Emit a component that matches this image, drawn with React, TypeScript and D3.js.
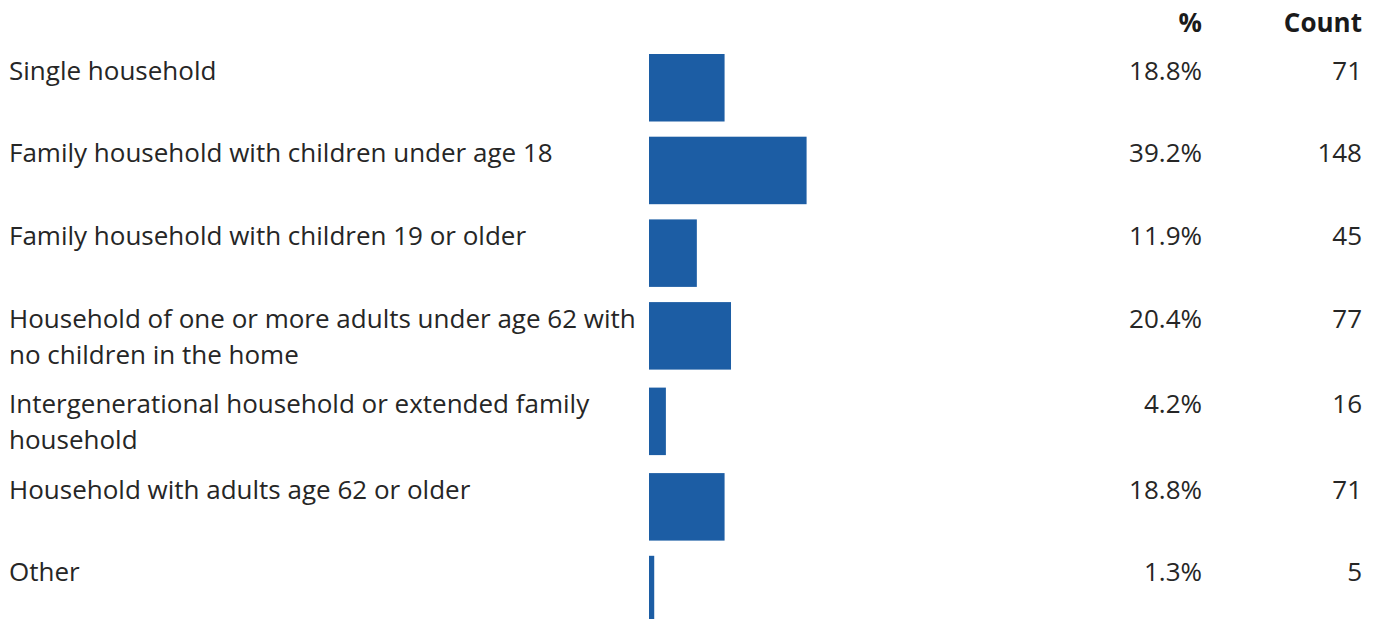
import React from "react";
import * as d3 from "d3";

const categories: string[][] = [
  ["Single household"],
  ["Family household with children under age 18"],
  ["Family household with children 19 or older"],
  ["Household of one or more adults under age 62 with", "no children in the home"],
  ["Intergenerational household or extended family", "household"],
  ["Household with adults age 62 or older"],
  ["Other"],
];
const percents: number[] = [18.8, 39.2, 11.9, 20.4, 4.2, 18.8, 1.3];
const counts: number[] = [71, 148, 45, 77, 16, 71, 5];
const headers: string[] = ["%", "Count"];

const W = 1375;
const H = 619;
const FONT = "'Open Sans', sans-serif";
const BLUE = "#1c5da4";
const TEXT = "#262626";
const FS = 26;

export default function App() {
  const x = d3.scaleLinear().domain([0, 100]).range([649, 1051]);
  const rowH = categories.map((c) => (c.length > 1 ? 85.5 : 82.7));
  const tops: number[] = [];
  let acc = 54;
  rowH.forEach((h) => {
    tops.push(acc);
    acc += h;
  });
  const barH = 67.5;
  const pctX = 1202;
  const cntX = 1362;
  const lineH = 36;

  return (
    <svg
      width={W}
      height={H}
      style={{ position: "absolute", left: 0, top: 0, display: "block" }}
      fontFamily={FONT}
    >
      <text x={pctX} y={32} textAnchor="end" fontWeight="700" fontSize={FS} fill="#1a1a1a">
        {headers[0]}
      </text>
      <text x={cntX} y={32} textAnchor="end" fontWeight="700" fontSize={FS} fill="#1a1a1a">
        {headers[1]}
      </text>
      {categories.map((lines, i) => {
        const top = tops[i];
        const base = top + 25.5;
        return (
          <g key={i}>
            {lines.map((ln, j) => (
              <text key={j} x={9} y={base + j * lineH} fontSize={FS} fill={TEXT}>
                {ln}
              </text>
            ))}
            <rect x={x(0)} y={top} width={x(percents[i]) - x(0)} height={barH} fill={BLUE} />
            <text x={pctX} y={base} textAnchor="end" fontSize={FS} fill={TEXT}>
              {percents[i].toFixed(1) + "%"}
            </text>
            <text x={cntX} y={base} textAnchor="end" fontSize={FS} fill={TEXT}>
              {counts[i]}
            </text>
          </g>
        );
      })}
    </svg>
  );
}
